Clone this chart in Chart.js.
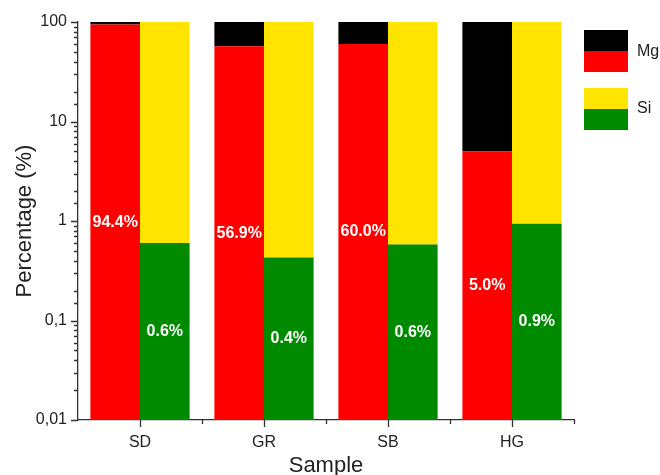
<!DOCTYPE html>
<html>
<head>
<meta charset="utf-8">
<script src="https://cdn.jsdelivr.net/npm/chart.js@4"></script>
<style>
  body { margin: 0; background: #fff; }
  #wrap { position: relative; width: 660px; height: 475px; }
  .key { position: absolute; left: 584px; width: 44px; }
  .key div { height: 50%; }
  .keyText { position: absolute; left: 637px; font: 16px "Liberation Sans", Arial, sans-serif; line-height: 18px; color: #222; }
</style>
</head>
<body>
<div id="wrap">
  <canvas id="myChart" width="660" height="475"></canvas>
  <div class="key" style="top:30px;height:42px"><div style="background:#000"></div><div style="background:#ff0000"></div></div>
  <div class="keyText" style="top:42px">Mg</div>
  <div class="key" style="top:88px;height:42px"><div style="background:#ffe400"></div><div style="background:#008a00"></div></div>
  <div class="keyText" style="top:99px">Si</div>
</div>
<script>
var samples = ['SD', 'GR', 'SB', 'HG'];
var mgValues = [94.4, 56.9, 60.0, 5.0];
var siValues = [0.6, 0.43, 0.58, 0.94];
var yMin = 0.01;
var yMax = 100;

var fontName = '"Liberation Sans", Arial, sans-serif';

function isDecade(v) {
  var l = Math.log10(v);
  return Math.abs(l - Math.round(l)) < 1e-9;
}

// floating bars: bottom part from the axis floor, top part up to 100 %
const data = {
  labels: samples,
  datasets: [
    { label: 'Mg', stack: 'Mg', backgroundColor: '#ff0000', data: mgValues.map(v => [yMin, v]), showValue: true },
    { label: 'Mg rest', stack: 'Mg', backgroundColor: '#000000', data: mgValues.map(v => [v, yMax]) },
    { label: 'Si', stack: 'Si', backgroundColor: '#008a00', data: siValues.map(v => [yMin, v]), showValue: true },
    { label: 'Si rest', stack: 'Si', backgroundColor: '#ffe400', data: siValues.map(v => [v, yMax]) }
  ]
};

// value labels in the middle of the red / green bars
const valueLabels = {
  id: 'valueLabels',
  afterDatasetsDraw(chart) {
    var ctx = chart.ctx;
    ctx.save();
    ctx.fillStyle = '#fff';
    ctx.font = 'bold 16px ' + fontName;
    ctx.textAlign = 'center';
    ctx.textBaseline = 'middle';
    chart.data.datasets.forEach((ds, i) => {
      if (!ds.showValue) return;
      chart.getDatasetMeta(i).data.forEach((bar, j) => {
        var v = ds.data[j][1];
        ctx.fillText(v.toFixed(1) + '%', bar.x, (bar.y + bar.base) / 2);
      });
    });
    ctx.restore();
  }
};

// axis tick marks (major + minor), drawn outside the plot
const axisTicks = {
  id: 'axisTicks',
  afterDraw(chart) {
    var ctx = chart.ctx;
    var ys = chart.scales.y;
    var xs = chart.scales.x;
    ctx.save();
    ctx.strokeStyle = '#333';
    ctx.lineWidth = 1.3;
    ctx.beginPath();
    ys.ticks.forEach(t => {
      var py = Math.round(ys.getPixelForValue(t.value)) + 0.5;
      var len = isDecade(t.value) ? 7 : 4;
      ctx.moveTo(ys.right - len, py);
      ctx.lineTo(ys.right, py);
    });
    var step = xs.getPixelForValue(1) - xs.getPixelForValue(0);
    samples.forEach((s, i) => {
      var px = Math.round(xs.getPixelForValue(i)) + 0.5;
      ctx.moveTo(px, xs.top);
      ctx.lineTo(px, xs.top + 7);
      var bx = Math.round(xs.getPixelForValue(i) + step / 2) + 0.5;
      ctx.moveTo(bx, xs.top);
      ctx.lineTo(bx, xs.top + 4);
    });
    ctx.stroke();
    ctx.restore();
  }
};

const config = {
  type: 'bar',
  data: data,
  options: {
    responsive: false,
    animation: false,
    barPercentage: 1,
    categoryPercentage: 0.8,
    layout: { padding: { left: 0, right: 86, top: 22, bottom: 0 } },
    plugins: {
      legend: { display: false },
      tooltip: { enabled: false }
    },
    scales: {
      x: {
        stacked: true,
        grid: { display: false },
        border: { display: true, color: '#333', width: 1.3 },
        ticks: { color: '#222', padding: 5, font: { family: fontName, size: 16 } },
        title: { display: true, text: 'Sample', color: '#222', font: { family: fontName, size: 22, lineHeight: 0.8 }, padding: { top: 0, bottom: 0 } },
        afterFit(scale) { scale.height = 55; }
      },
      y: {
        type: 'logarithmic',
        stacked: false,
        min: yMin,
        max: yMax,
        grid: { display: false },
        border: { display: true, color: '#333', width: 1.3 },
        ticks: {
          color: '#222',
          padding: 3,
          autoSkip: false,
          font: { family: fontName, size: 16 },
          callback: v => isDecade(v) ? String(v).replace('.', ',') : ''
        },
        title: { display: true, text: 'Percentage (%)', color: '#222', font: { family: fontName, size: 22, lineHeight: 1 }, padding: { top: 14, bottom: 0 } },
        afterFit(scale) { scale.width = 78; }
      }
    }
  },
  plugins: [valueLabels, axisTicks]
};

var myChart = new Chart(document.getElementById('myChart'), config);
</script>
</body>
</html>
